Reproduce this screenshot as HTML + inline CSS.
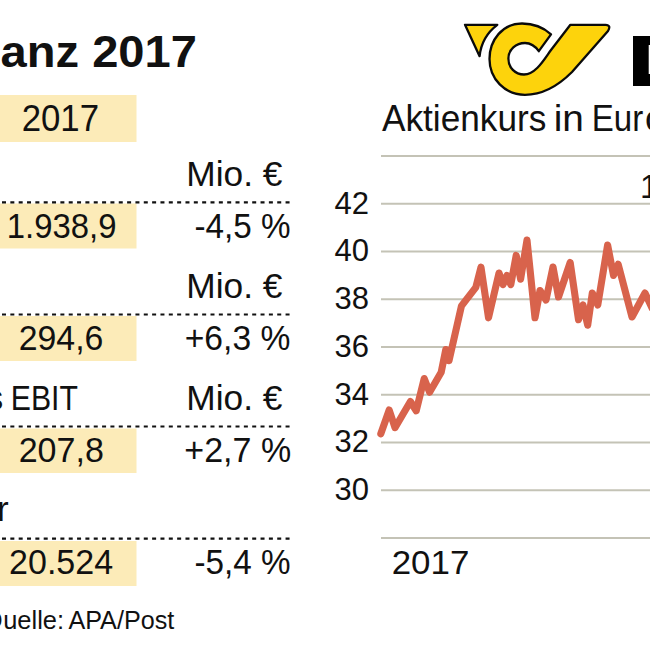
<!DOCTYPE html>
<html><head><meta charset="utf-8">
<style>
html,body{margin:0;padding:0;background:#fff;width:650px;height:650px;overflow:hidden}
svg{display:block}
text{font-family:"Liberation Sans",sans-serif;fill:#111}
</style></head>
<body>
<svg width="650" height="650" viewBox="0 0 650 650">
<rect width="650" height="650" fill="#fff"/>
<!-- title -->
<text id="t_title" x="0.48" y="67" font-size="45" font-weight="bold" textLength="196.5" lengthAdjust="spacingAndGlyphs">anz 2017</text>
<!-- yellow boxes -->
<g fill="#FCEBB8">
<rect x="0" y="95" width="136.5" height="47"/>
<rect x="0" y="203.5" width="136.5" height="45"/>
<rect x="0" y="316" width="136.5" height="45"/>
<rect x="0" y="428.5" width="136.5" height="44.5"/>
<rect x="0" y="541" width="136.5" height="45"/>
</g>
<!-- dashed lines -->
<g stroke="#111" stroke-width="2.2" stroke-dasharray="4 4.34">
<line x1="2" y1="202.3" x2="290" y2="202.3"/>
<line x1="2" y1="314.5" x2="290" y2="314.5"/>
<line x1="2" y1="426.5" x2="290" y2="426.5"/>
<line x1="2" y1="538.7" x2="290" y2="538.7"/>
</g>
<g font-size="35">
<text id="t_h2017" x="21.69" y="131.3" font-size="36" textLength="77.35" lengthAdjust="spacingAndGlyphs">2017</text>
<text id="t_mio1" x="186.35" y="186" textLength="96.14" lengthAdjust="spacingAndGlyphs">Mio. €</text>
<text id="t_v1" x="6.72" y="238" textLength="109.75" lengthAdjust="spacingAndGlyphs">1.938,9</text>
<text id="t_p1" x="194.54" y="238" textLength="96.15" lengthAdjust="spacingAndGlyphs">-4,5 %</text>
<text id="t_mio2" x="186.35" y="298" textLength="96.14" lengthAdjust="spacingAndGlyphs">Mio. €</text>
<text id="t_v2" x="18.72" y="350" textLength="84.67" lengthAdjust="spacingAndGlyphs">294,6</text>
<text id="t_p2" x="184.7" y="350" textLength="105.68" lengthAdjust="spacingAndGlyphs">+6,3 %</text>
<text id="t_s" x="-14.3" y="410">s</text>
<text id="t_ebit" x="10.84" y="410" textLength="67.07" lengthAdjust="spacingAndGlyphs">EBIT</text>
<text id="t_mio3" x="186.35" y="410" textLength="96.14" lengthAdjust="spacingAndGlyphs">Mio. €</text>
<text id="t_v3" x="18.7" y="462" textLength="85.2" lengthAdjust="spacingAndGlyphs">207,8</text>
<text id="t_p3" x="184.3" y="462" textLength="106.87" lengthAdjust="spacingAndGlyphs">+2,7 %</text>
<text id="t_r" x="-3" y="520.5">r</text>
<text id="t_v4" x="9.08" y="574" textLength="104.0" lengthAdjust="spacingAndGlyphs">20.524</text>
<text id="t_p4" x="194.54" y="574" textLength="96.15" lengthAdjust="spacingAndGlyphs">-5,4 %</text>
</g>
<g font-size="25.5"><text id="t_q" x="-17.2" y="628.5">Q</text>
<text id="t_src1" x="3.2" y="628.5" textLength="60.86" lengthAdjust="spacingAndGlyphs">uelle:</text>
<text id="t_src2" x="68.41" y="628.5" textLength="105.83" lengthAdjust="spacingAndGlyphs">APA/Post</text></g>

<!-- chart -->
<g font-size="36.5"><text id="t_akt" x="382.0" y="131" textLength="164.36" lengthAdjust="spacingAndGlyphs">Aktienkurs</text>
<text id="t_in" x="553.72" y="131" textLength="30.2" lengthAdjust="spacingAndGlyphs">in</text>
<text id="t_eur" x="591.77" y="131" textLength="51.45" lengthAdjust="spacingAndGlyphs">Eur</text>
<text id="t_o" x="645" y="131">o</text></g>
<g stroke="#C4C3B6" stroke-width="1.9">
<line x1="381" y1="156" x2="650" y2="156"/>
<line x1="381" y1="203.75" x2="650" y2="203.75"/>
<line x1="381" y1="251.5" x2="650" y2="251.5"/>
<line x1="381" y1="299.25" x2="650" y2="299.25"/>
<line x1="381" y1="347" x2="650" y2="347"/>
<line x1="381" y1="394.75" x2="650" y2="394.75"/>
<line x1="381" y1="442.5" x2="650" y2="442.5"/>
<line x1="381" y1="490.25" x2="650" y2="490.25"/>
<line x1="381" y1="538" x2="650" y2="538"/>
</g>
<g font-size="31" text-anchor="end">
<text id="t_y42" x="369" y="213.5">42</text>
<text id="t_y40" x="369" y="261.3">40</text>
<text id="t_y38" x="369" y="309">38</text>
<text id="t_y36" x="369" y="356.8">36</text>
<text id="t_y34" x="369" y="404.5">34</text>
<text id="t_y32" x="369" y="452.3">32</text>
<text id="t_y30" x="369" y="500">30</text>
</g>
<text id="t_x2017" x="391.71" y="573.5" font-size="34" textLength="77.64" lengthAdjust="spacingAndGlyphs">2017</text>
<text id="t_one" x="640" y="198" font-size="33">1</text>
<polyline fill="none" stroke="#D8634C" stroke-width="7.1" stroke-linejoin="round" stroke-linecap="round"
points="380.8,433.8 389.2,410 395,427.7 410.4,401.5 416.2,410.8 424.2,378.5 429.6,392.3 441.2,372.3 445.8,349.5 449,360.7 461.5,305.8 475.8,287.3 481,267.2 488.5,317.8 499,273 503,284.6 507,275.4 510.8,284.6 516.2,255.4 520.6,279.2 527,240 535,317.8 540,290.5 546,300 553,267 558.5,297 570.2,262.5 578.5,319.7 583,305 587.7,325.2 592.3,293 597.8,305 607.6,245 613.5,275.4 618.2,264.3 632,317 645,293 652,308"/>

<!-- logo -->
<g stroke="#0a0a0a" stroke-width="2.3" fill="#FDD30C" stroke-linejoin="round">
<path d="M465,24.8 L497.3,24.8 A45,45 0 0 0 479.6,56.2 Z"/>
<path d="M551,34.3 C543,27 533,23.5 522,23.5 C502.5,23.5 489.5,40 489.5,59 C489.5,79 505,94.8 525,94.8 C542,94.8 558,86 572,72 L608,31 Q611.5,25 605.5,24.8 L570.4,24.8 L551,50 C545,58 536,74.5 524,74.5 C515,74.5 508.4,67.5 508.4,58.5 C508.4,49.5 516,43 525,43 C530.5,43 535.5,46.5 538.8,51.2 Z"/>
</g>
<!-- P -->
<rect x="633" y="36" width="17" height="50" fill="#000"/>
<rect x="648.7" y="45" width="2" height="29" fill="#fff"/>
</svg>
</body></html>
